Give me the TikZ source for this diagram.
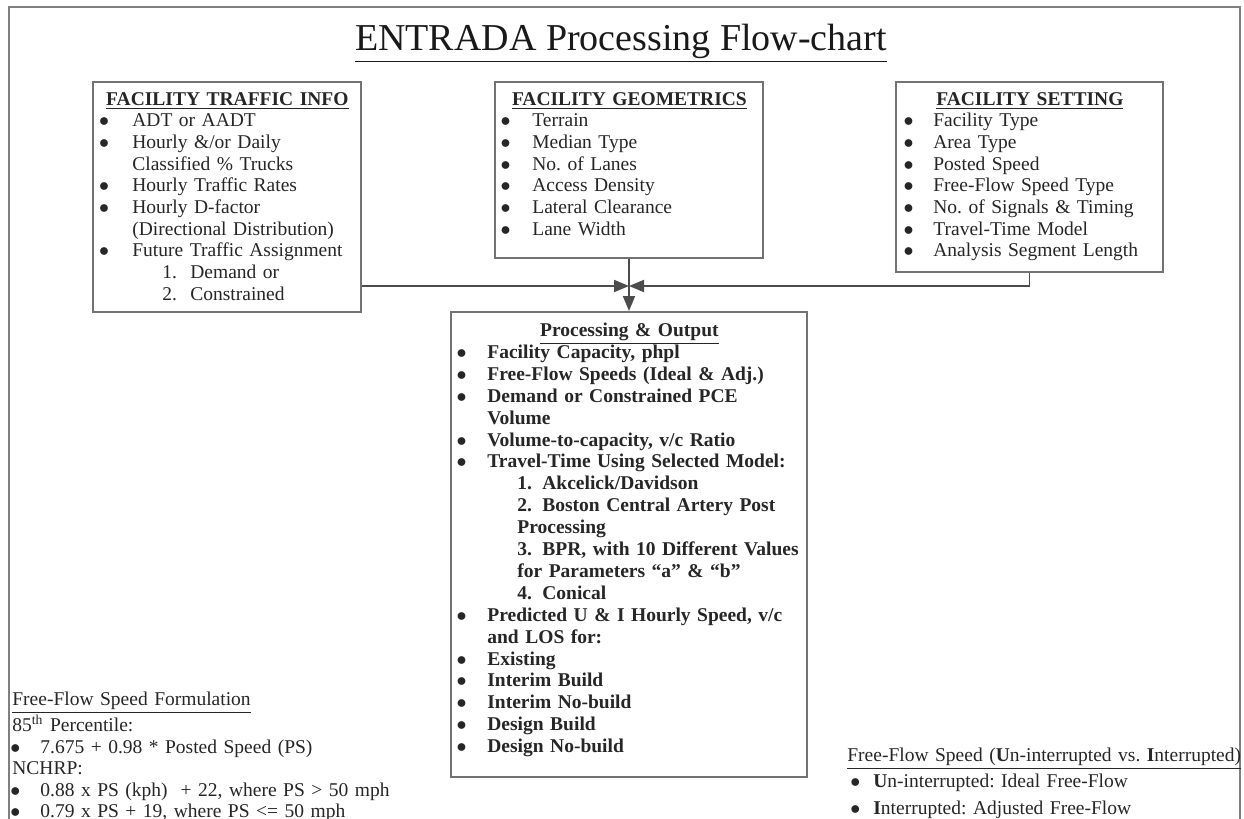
\documentclass[tikz,border=0pt]{standalone}
\usepackage{fontspec}
\setmainfont{Liberation Serif}
\usetikzlibrary{arrows.meta}

\newlength\bulx \newlength\txtx \newlength\numx \newlength\numtx
\newcommand{\indents}[4]{\setlength\bulx{#1}\setlength\txtx{#2}\setlength\numx{#3}\setlength\numtx{#4}}
\newcommand{\bl}{\hspace*{\bulx}\makebox[\dimexpr\txtx-\bulx\relax][l]{$\bullet$}}
\newcommand{\ct}{\hspace*{\txtx}}
\newcommand{\nm}[1]{\hspace*{\numx}\makebox[\dimexpr\numtx-\numx\relax][l]{#1}}
\frenchspacing

\begin{document}
\begin{tikzpicture}[x=0.5pt,y=-0.5pt]
    \tikzset{box/.style = {draw=black!55, line width=1pt, inner sep=0pt}}
    \tikzset{boxtext/.style = {anchor=base west, inner sep=0pt, align=left, text=black!85, font=\fontsize{9.75}{10.85}\selectfont}}
    \tikzset{edge/.style = {draw=black!70, line width=0.9pt, -{Triangle[length=7.5pt,width=6pt]}}}

    \useasboundingbox (0,0) rectangle (1244,819);

    % frame and title
    \draw[gray, line width=1.3pt] (9,819) -- (9,7) -- (1240,7) -- (1240,819);
    \node[font=\fontsize{19}{23}\selectfont, text=black!90, anchor=base] (title) at (621,50) {\underline{ENTRADA Processing Flow-chart}};

    % boxes
    \node[box, minimum width=134pt, minimum height=115pt] (traffic) at (227,197) {};
    \node[box, minimum width=134pt, minimum height=88pt] (geometrics) at (629,170) {};
    \node[box, minimum width=133.5pt, minimum height=95pt] (setting) at (1029.5,177) {};
    \node[box, minimum width=178pt, minimum height=232.5pt] (processing) at (629,544.5) {};

    % box texts
    \node[boxtext, text width=134pt] (traffictext) at (93,105) {\indents{2.8pt}{19.5pt}{34.5pt}{48.5pt}%
        \makebox[134pt][c]{\underline{\textbf{FACILITY TRAFFIC INFO}}}\\
        \bl ADT or AADT\\
        \bl Hourly \&/or Daily\\
        \ct Classified \% Trucks\\
        \bl Hourly Traffic Rates\\
        \bl Hourly D-factor\\
        \ct (Directional Distribution)\\
        \bl Future Traffic Assignment\\
        \nm{1.}Demand or\\
        \nm{2.}Constrained};
    \node[boxtext, text width=134pt] (geometricstext) at (495,105) {\indents{2.6pt}{18.5pt}{0pt}{0pt}%
        \makebox[134pt][c]{\underline{\textbf{FACILITY GEOMETRICS}}}\\
        \bl Terrain\\
        \bl Median Type\\
        \bl No. of Lanes\\
        \bl Access Density\\
        \bl Lateral Clearance\\
        \bl Lane Width};
    \node[boxtext, text width=133.5pt] (settingtext) at (896,105) {\indents{3.6pt}{18.5pt}{0pt}{0pt}%
        \makebox[133.5pt][c]{\underline{\textbf{FACILITY SETTING}}}\\
        \bl Facility Type\\
        \bl Area Type\\
        \bl Posted Speed\\
        \bl Free-Flow Speed Type\\
        \bl No. of Signals \& Timing\\
        \bl Travel-Time Model\\
        \bl Analysis Segment Length};
    \node[boxtext, text width=178pt, font=\fontsize{9.75}{10.95}\selectfont\bfseries] (processingtext) at (451,336.5) {\indents{2.6pt}{18pt}{33pt}{45.5pt}%
        \makebox[178pt][c]{\underline{Processing \& Output}}\\
        \bl Facility Capacity, phpl\\
        \bl Free-Flow Speeds (Ideal \& Adj.)\\
        \bl Demand or Constrained PCE\\
        \ct Volume\\
        \bl Volume-to-capacity, v/c Ratio\\
        \bl Travel-Time Using Selected Model:\\
        \nm{1.}Akcelick/Davidson\\
        \nm{2.}Boston Central Artery Post\\
        \hspace*{\numx}Processing\\
        \nm{3.}BPR, with 10 Different Values\\
        \hspace*{\numx}for Parameters “a” \& “b”\\
        \nm{4.}Conical\\
        \bl Predicted U \& I Hourly Speed, v/c\\
        \ct and LOS for:\\
        \bl Existing\\
        \bl Interim Build\\
        \bl Interim No-build\\
        \bl Design Build\\
        \bl Design No-build};

    % notes
    \node[boxtext, text width=200pt, font=\fontsize{9.75}{10.7}\selectfont] (formulation) at (10,705) {\indents{0pt}{15pt}{0pt}{0pt}%
        \hspace*{1pt}\underline{Free-Flow Speed Formulation}\\
        \hspace*{1pt}85\textsuperscript{th} Percentile:\\
        \bl 7.675 + 0.98 * Posted Speed (PS)\\
        \hspace*{1pt}NCHRP:\\
        \bl 0.88 x PS (kph) \ + 22, where PS > 50 mph\\
        \bl 0.79 x PS + 19, where PS <= 50 mph};
    \node[boxtext, text width=200pt, font=\fontsize{9.75}{13.25}\selectfont] (flowtypes) at (847,761) {\indents{1.5pt}{13pt}{0pt}{0pt}%
        \underline{Free-Flow Speed (\textbf{U}n-interrupted vs. \textbf{I}nterrupted)}\\
        \bl \textbf{U}n-interrupted: Ideal Free-Flow\\
        \bl \textbf{I}nterrupted: Adjusted Free-Flow};

    % edges
    \coordinate (join) at (629,286);
    \draw[edge] (traffic.east |- join) -- (join);
    \draw[edge] (setting.south) |- (join);
    \draw[edge] (geometrics.south) -- (processing.north);
\end{tikzpicture}
\end{document}
